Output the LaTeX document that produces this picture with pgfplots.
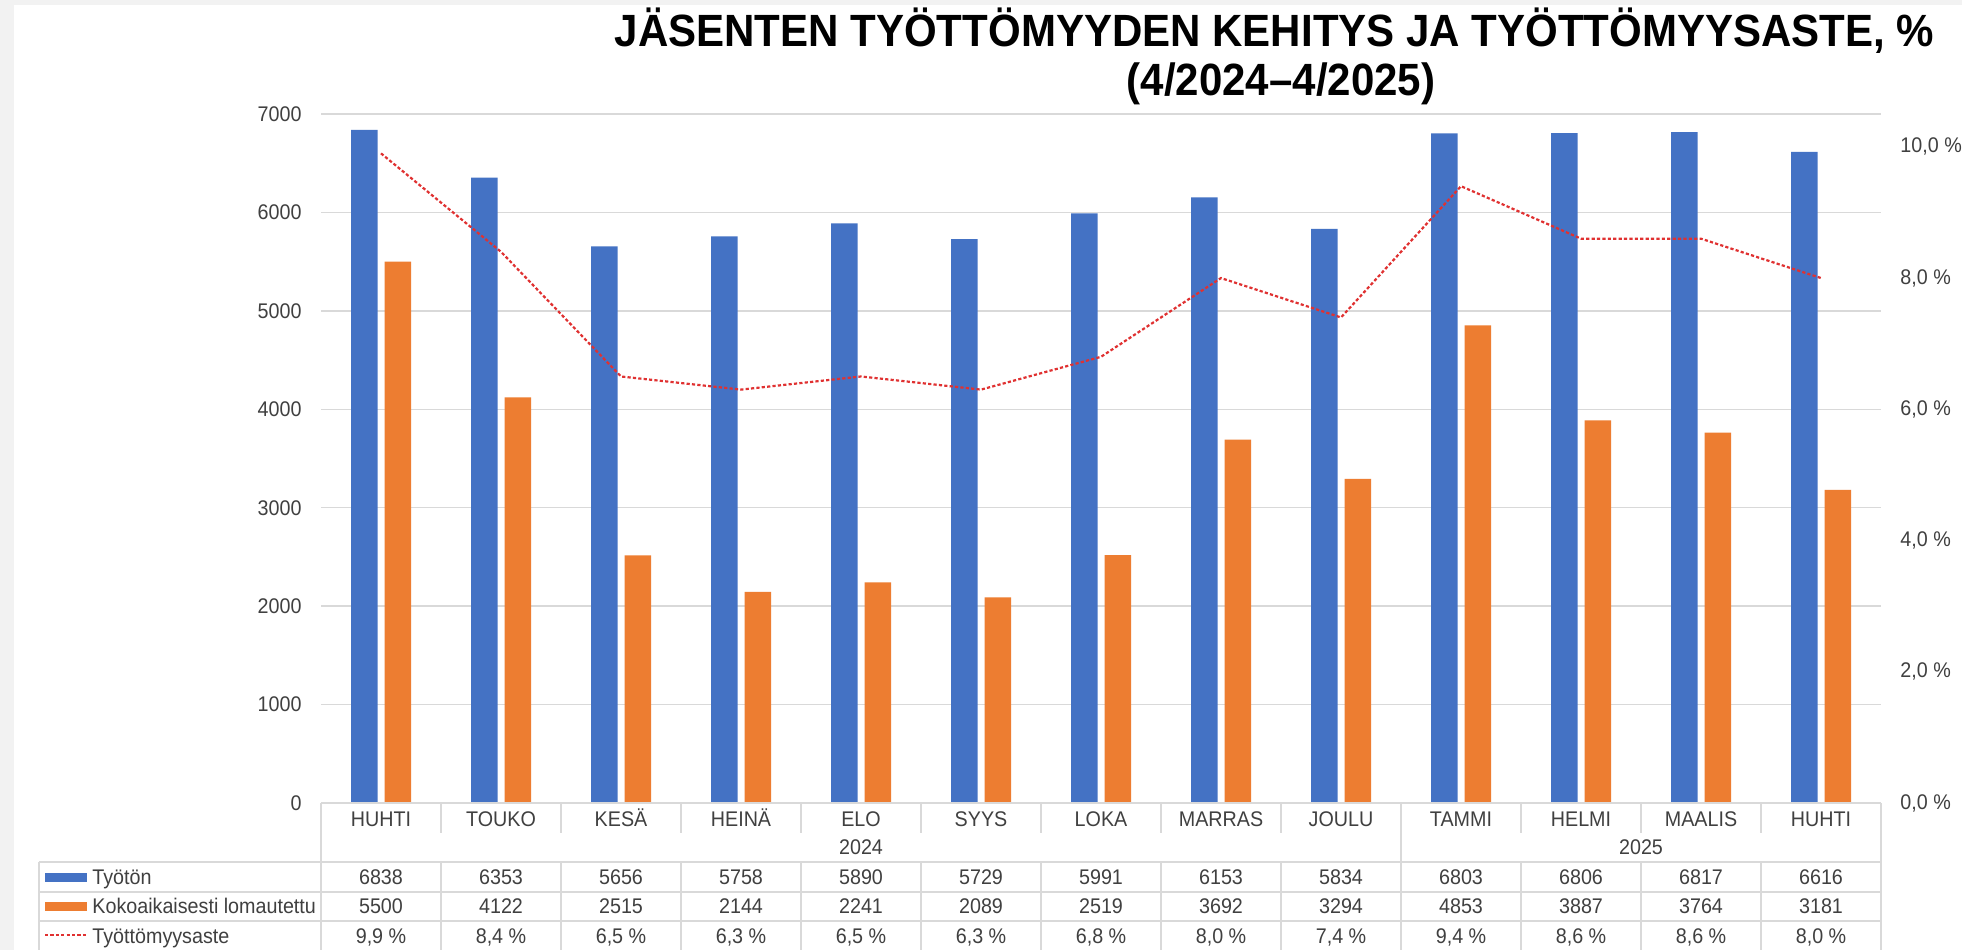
\documentclass[border=0pt]{standalone}
\usepackage{fontspec}
\setmainfont{Liberation Sans}[FakeStretch=0.93]
\usepackage{pgfplots}
\pgfplotsset{compat=1.18}
\definecolor{cblue}{HTML}{4472C4}
\definecolor{corange}{HTML}{ED7D31}
\definecolor{cred}{HTML}{E03131}
\definecolor{cgrid}{HTML}{D9D9D9}
\definecolor{ctext}{HTML}{404040}
\definecolor{cbg}{HTML}{F2F2F2}
\begin{document}
\begin{tikzpicture}[font=\fontsize{10.6pt}{12pt}\selectfont,
  tbl/.style={text=ctext, inner sep=0pt, text height=7.5pt, text depth=0pt}]
\path[use as bounding box, fill=white] (0,0) rectangle (981pt,475pt);
\fill[cbg] (0,472.5pt) rectangle (981pt,475pt);
\fill[cbg] (0,0) rectangle (7pt,475pt);

\begin{axis}[
  at={(160.5pt,73.5pt)}, anchor=south west,
  scale only axis, width=780pt, height=344.5pt,
  xmin=-0.5, xmax=12.5, ymin=0, ymax=7000,
  ybar=3.5pt, bar width=13.25pt,
  axis line style={draw=none},
  xtick=\empty,
  ytick={0,1000,2000,3000,4000,5000,6000,7000},
  yticklabels={0,1000,2000,3000,4000,5000,6000,7000},
  yticklabel style={text=ctext, anchor=east, inner sep=0pt, xshift=-9.5pt},
  major tick length=0pt,
  ymajorgrids, grid style={cgrid, line width=0.7pt},
  clip=false,
]
\addplot[fill=cblue, draw=none] coordinates {(0,6838) (1,6353) (2,5656) (3,5758) (4,5890) (5,5729) (6,5991) (7,6153) (8,5834) (9,6803) (10,6806) (11,6817) (12,6616)};
\addplot[fill=corange, draw=none] coordinates {(0,5500) (1,4122) (2,2515) (3,2144) (4,2241) (5,2089) (6,2519) (7,3692) (8,3294) (9,4853) (10,3887) (11,3764) (12,3181)};
\end{axis}

\begin{axis}[
  at={(160.5pt,73.5pt)}, anchor=south west,
  scale only axis, width=780pt, height=344.5pt,
  xmin=-0.5, xmax=12.5, ymin=0, ymax=10.5,
  axis y line*=right, axis x line=none,
  axis line style={draw=none},
  ytick={0,2,4,6,8,10},
  yticklabels={{0,0 \%},{2,0 \%},{4,0 \%},{6,0 \%},{8,0 \%},{10,0 \%}},
  yticklabel style={text=ctext, anchor=west, inner sep=0pt, xshift=9.5pt},
  major tick length=0pt,
  clip=false,
]
\addplot[cred, line width=1.1pt, dash pattern=on 1.6pt off 1.1pt, mark=none] coordinates {(0,9.9) (1,8.4) (2,6.5) (3,6.3) (4,6.5) (5,6.3) (6,6.8) (7,8.0) (8,7.4) (9,9.4) (10,8.6) (11,8.6) (12,8.0)};
\end{axis}

% data table
\begin{scope}[cgrid, line width=0.7pt]
  \draw (160.5pt,73.5pt) -- (940.5pt,73.5pt);
  \foreach \k in {1,2,3,4,5,6,7,8,10,11,12} \draw ({160.5pt+60pt*\k},73.5pt) -- ({160.5pt+60pt*\k},58.5pt);
  \draw (700.5pt,73.5pt) -- (700.5pt,44pt);
  \draw (160.5pt,73.5pt) -- (160.5pt,0pt);
  \draw (940.5pt,73.5pt) -- (940.5pt,0pt);
  \foreach \k in {1,...,12} \draw ({160.5pt+60pt*\k},44pt) -- ({160.5pt+60pt*\k},0pt);
  \draw (19.5pt,44pt) -- (19.5pt,0pt);
  \foreach \yy in {44,29,14.5} \draw (19.5pt,\yy pt) -- (940.5pt,\yy pt);
\end{scope}

\foreach \lab [count=\i from 0] in {HUHTI,TOUKO,KESÄ,HEINÄ,ELO,SYYS,LOKA,MARRAS,JOULU,TAMMI,HELMI,MAALIS,HUHTI}
  \node[tbl] at ({190.5pt+60pt*\i},65.5pt) {\lab};
\node[tbl] at (430.5pt,51.5pt) {2024};
\node[tbl] at (820.5pt,51.5pt) {2025};
\foreach \v [count=\i from 0] in {6838,6353,5656,5758,5890,5729,5991,6153,5834,6803,6806,6817,6616}
  \node[tbl] at ({190.5pt+60pt*\i},36.6pt) {\v};
\foreach \v [count=\i from 0] in {5500,4122,2515,2144,2241,2089,2519,3692,3294,4853,3887,3764,3181}
  \node[tbl] at ({190.5pt+60pt*\i},22.1pt) {\v};
\foreach \v [count=\i from 0] in {9.9,8.4,6.5,6.3,6.5,6.3,6.8,8.0,7.4,9.4,8.6,8.6,8.0}
  \node[tbl] at ({190.5pt+60pt*\i},7.2pt) {\pgfmathprintnumber[fixed,fixed zerofill,precision=1,use comma,assume math mode=true]{\v}~\%};

% legend keys
\fill[cblue] (22.5pt,34pt) rectangle (43.5pt,38.5pt);
\fill[corange] (22.5pt,19.5pt) rectangle (43.5pt,24pt);
\draw[cred, line width=1.1pt, dash pattern=on 1.6pt off 1.1pt] (22.5pt,7.5pt) -- (43.5pt,7.5pt);
\node[tbl, anchor=west] at (46pt,36.6pt) {Työtön};
\node[tbl, anchor=west] at (46pt,22.1pt) {Kokoaikaisesti lomautettu};
\node[tbl, anchor=west] at (46pt,7.2pt) {Työttömyysaste};

% title
\node[anchor=base, font=\fontsize{22.6pt}{27pt}\selectfont\bfseries] at (637.25pt,451.5pt) {JÄSENTEN TYÖTTÖMYYDEN KEHITYS JA TYÖTTÖMYYSASTE, \%};
\node[anchor=base, font=\fontsize{22.6pt}{27pt}\selectfont\bfseries] at (640.5pt,427pt) {(4/2024–4/2025)};
\end{tikzpicture}
\end{document}
